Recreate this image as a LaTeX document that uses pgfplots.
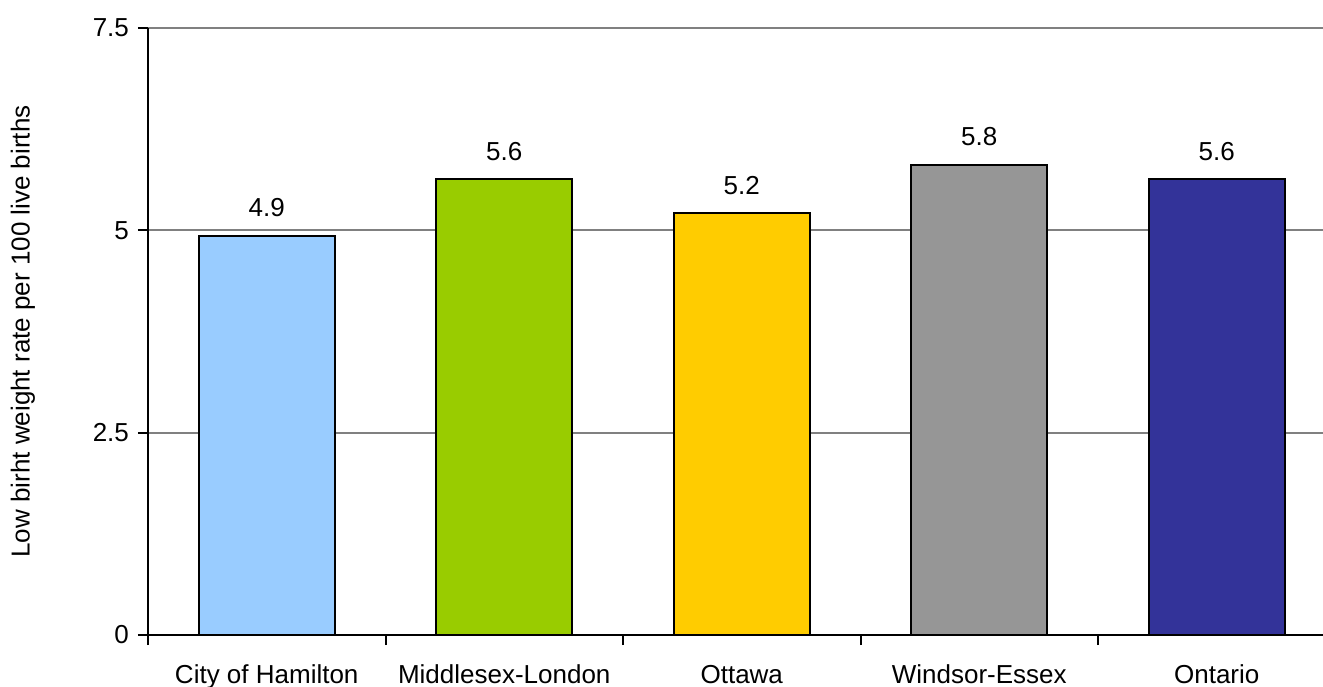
\documentclass[border=0pt]{standalone}
\usepackage{pgfplots}
\pgfplotsset{compat=1.18}
\usepackage{fontspec}
\setmainfont{Liberation Sans}
\definecolor{cHam}{HTML}{99CCFF}
\definecolor{cMid}{HTML}{99CC00}
\definecolor{cOtt}{HTML}{FFCC00}
\definecolor{cWin}{HTML}{969696}
\definecolor{cOnt}{HTML}{333399}
\definecolor{gridgray}{RGB}{128,128,128}
\begin{document}
\fontsize{13}{15.6}\selectfont
\begin{tikzpicture}
\begin{axis}[
  at={(0,0)}, anchor=south west,
  scale only axis, width=593.75pt, height=303.5pt,
  xmin=-0.5, xmax=4.5, ymin=0, ymax=7.5,
  ytick={0,2.5,5,7.5},
  xtick={0,1,2,3,4},
  xticklabels={City of Hamilton,Middlesex-London,Ottawa,Windsor-Essex,Ontario},
  minor xtick={-0.5,0.5,1.5,2.5,3.5,4.5},
  major x tick style={draw=none},
  tick align=outside, major tick length=5pt, minor tick length=5pt,
  ymajorgrids, grid style={draw=gridgray, line width=1pt},
  axis x line*=bottom, axis y line*=left,
  axis line style={line width=1pt, black, -},
  tick style={line width=1pt, black},
  /pgf/number format/assume math mode=true,
  ticklabel style={font=\fontsize{13}{15.6}\selectfont},
  xticklabel style={yshift=-5.5pt},
  ylabel={Low birht weight rate per 100 live births},
  every axis y label/.style={at={(axis description cs:0,0.5)}, rotate=90, anchor=center, yshift=62.5pt, font=\fontsize{13}{15.6}\selectfont},
  nodes near coords,
  nodes near coords style={anchor=south, inner sep=0pt, yshift=9pt, font=\fontsize{13}{15.6}\selectfont, /pgf/number format/.cd, fixed, fixed zerofill, precision=1, assume math mode=true},
]
\addplot[ybar, bar width=68pt, bar shift=0pt, fill=cHam, draw=black, line width=1pt] coordinates {(0,4.93)};
\addplot[ybar, bar width=68pt, bar shift=0pt, fill=cMid, draw=black, line width=1pt] coordinates {(1,5.63)};
\addplot[ybar, bar width=68pt, bar shift=0pt, fill=cOtt, draw=black, line width=1pt] coordinates {(2,5.21)};
\addplot[ybar, bar width=68pt, bar shift=0pt, fill=cWin, draw=black, line width=1pt] coordinates {(3,5.81)};
\addplot[ybar, bar width=68pt, bar shift=0pt, fill=cOnt, draw=black, line width=1pt] coordinates {(4,5.63)};
\end{axis}
\pgfresetboundingbox
\path[use as bounding box] (-74pt,-25.5pt) rectangle (587.5pt,317.5pt);
\end{tikzpicture}
\end{document}
